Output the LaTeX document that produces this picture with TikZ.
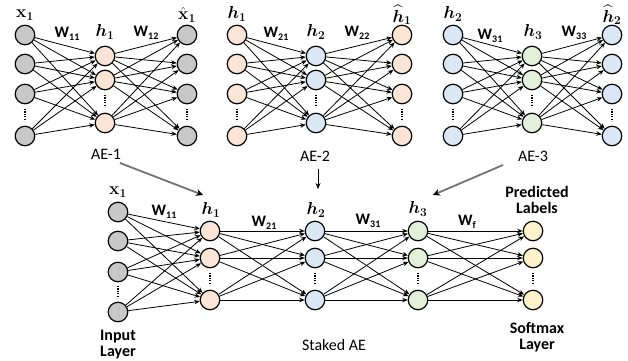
\documentclass[tikz,border=0pt]{standalone}
\usepackage{amsmath,bm}
\usepackage[no-math]{fontspec}
\setmainfont{Carlito}
\usetikzlibrary{arrows.meta}
\definecolor{cgray}{RGB}{200,200,200}
\definecolor{cpeach}{RGB}{251,229,214}
\definecolor{cblue}{RGB}{218,232,246}
\definecolor{cgreen}{RGB}{226,240,217}
\definecolor{cyellow}{RGB}{255,242,204}
\tikzset{
  neuron/.style={circle,draw=black,line width=1.2pt,minimum size=19.5pt,inner sep=0pt},
  edge/.style={line width=0.8pt,-{Stealth[length=5.5pt,width=4.5pt]}},
  vdots/.style={line width=1.3pt,dash pattern=on 1.2pt off 1.2pt},
  lbl/.style={inner sep=0pt,font=\fontsize{16}{18}\selectfont},
  mlbl/.style={inner sep=0pt,font=\fontsize{17}{19}\selectfont},
  blbl/.style={inner sep=0pt,font=\fontsize{16}{18}\selectfont\bfseries,align=center},
  bigarrow/.style={line width=1.8pt,draw=black!55,-{Stealth[length=7pt,width=7pt,black]}},
  thinarrow/.style={line width=0.8pt,-{Stealth[length=6pt,width=5pt]}}
}
\newcommand\Wlab[1]{\textbf{W}\raisebox{-0.35ex}{\fontsize{10}{11}\selectfont\textbf{#1}}}
% #1 prefix, #2 input x, #3 hidden x, #4 output x, #5 in colour, #6 hidden colour
\newcommand\aenet[6]{%
  \foreach \y [count=\i] in {35,64,94,136} {
    \node[neuron,fill=#5] (#1i\i) at (#2,\y) {};
    \node[neuron,fill=#5] (#1o\i) at (#4,\y) {};
  }
  \foreach \y [count=\i] in {56,80,123} {
    \node[neuron,fill=#6] (#1h\i) at (#3,\y) {};
  }
  \foreach \i in {1,...,4} {
    \foreach \j in {1,...,3} {
      \draw[edge] (#1i\i) -- (#1h\j);
      \draw[edge] (#1h\j) -- (#1o\i);
    }
  }
  \draw[vdots] (#2,109) -- (#2,121);
  \draw[vdots] (#4,109) -- (#4,121);
  \draw[vdots] (#3,95) -- (#3,107);
}
\begin{document}
\begin{tikzpicture}[x=1pt,y=-1pt]
\useasboundingbox (0,0) rectangle (628,360);
% ---------- AE-1 ----------
\aenet{a}{25}{105}{187}{cgray}{cpeach}
\node[mlbl] (ax) at (25,15) {$\mathbf{x}_{\mathbf{1}}$};
\node[lbl] (aw1) at (67,34) {\Wlab{11}};
\node[mlbl] (ah) at (105,32) {$\boldsymbol{h}_{\mathbf{1}}$};
\node[lbl] (aw2) at (146,33) {\Wlab{12}};
\node[mlbl] (axh) at (187,15) {$\hat{\mathbf{x}}_{\mathbf{1}}$};
\node[lbl] (ae1) at (106,154) {AE-1};
% ---------- AE-2 ----------
\aenet{b}{237}{316}{402}{cpeach}{cblue}
\node[mlbl] (bx) at (237,14) {$\boldsymbol{h}_{\mathbf{1}}$};
\node[lbl] (bw1) at (276,34) {\Wlab{21}};
\node[mlbl] (bh) at (316,32) {$\boldsymbol{h}_{\mathbf{2}}$};
\node[lbl] (bw2) at (357,33) {\Wlab{22}};
\node[mlbl] (bxh) at (402,15) {$\widehat{\boldsymbol{h}}_{\mathbf{1}}$};
\node[lbl] (ae2) at (315,156) {AE-2};
% ---------- AE-3 ----------
\aenet{c}{453}{532}{612}{cblue}{cgreen}
\node[mlbl] (cx) at (453,14) {$\boldsymbol{h}_{\mathbf{2}}$};
\node[lbl] (cw1) at (490,36) {\Wlab{31}};
\node[mlbl] (ch) at (533,32) {$\boldsymbol{h}_{\mathbf{3}}$};
\node[lbl] (cw2) at (574,33) {\Wlab{33}};
\node[mlbl] (cxh) at (612,15) {$\widehat{\boldsymbol{h}}_{\mathbf{2}}$};
\node[lbl] (ae3) at (533,156) {AE-3};
% ---------- Stacked AE ----------
\foreach \y [count=\i] in {212,241,272,312} {
  \node[neuron,fill=cgray] (s0\i) at (118,\y) {};
}
\foreach \x/\c [count=\k] in {210/cpeach,315/cblue,418/cgreen,533/cyellow} {
  \foreach \y [count=\i] in {231,258,300} {
    \node[neuron,fill=\c] (s\k\i) at (\x,\y) {};
  }
  \draw[vdots] (\x,273) -- (\x,285);
}
\draw[vdots] (118,286) -- (118,298);
\foreach \i in {1,...,4} {
  \foreach \j in {1,...,3} {
    \draw[edge] (s0\i) -- (s1\j);
  }
}
\foreach \k [evaluate=\k as \n using int(\k+1)] in {1,2,3} {
  \foreach \i in {1,...,3} {
    \foreach \j in {1,...,3} {
      \draw[edge] (s\k\i) -- (s\n\j);
    }
  }
}
\node[mlbl] (sx) at (118,192) {$\mathbf{x}_{\mathbf{1}}$};
\node[lbl] (sw1) at (164,212) {\Wlab{11}};
\node[mlbl] (sh1) at (211,210) {$\boldsymbol{h}_{\mathbf{1}}$};
\node[lbl] (sw2) at (264,223) {\Wlab{21}};
\node[mlbl] (sh2) at (316,210) {$\boldsymbol{h}_{\mathbf{2}}$};
\node[lbl] (sw3) at (368,221) {\Wlab{31}};
\node[mlbl] (sh3) at (418,209) {$\boldsymbol{h}_{\mathbf{3}}$};
\node[lbl] (swf) at (467,222) {\textbf{W}\raisebox{-0.35ex}{\fontsize{10}{11}\selectfont\textbf{f}}};
\node[blbl] (spl) at (537,200) {Predicted\\[-2pt]Labels};
\node[blbl] (ssl) at (537,337) {Softmax\\[-2pt]Layer};
\node[blbl] (sil) at (118,345) {Input\\[-2pt]Layer};
\node[lbl] (sae) at (334,345) {Staked AE};
% ---------- arrows from AEs ----------
\coordinate (a1s) at (120,163);
\coordinate (a1e) at (203,195);
\coordinate (a2s) at (318,169);
\coordinate (a2e) at (318,189);
\coordinate (a3s) at (503,165);
\coordinate (a3e) at (433,195);
\draw[bigarrow] (a1s) -- (a1e);
\draw[thinarrow] (a2s) -- (a2e);
\draw[bigarrow] (a3s) -- (a3e);
\end{tikzpicture}
\end{document}
